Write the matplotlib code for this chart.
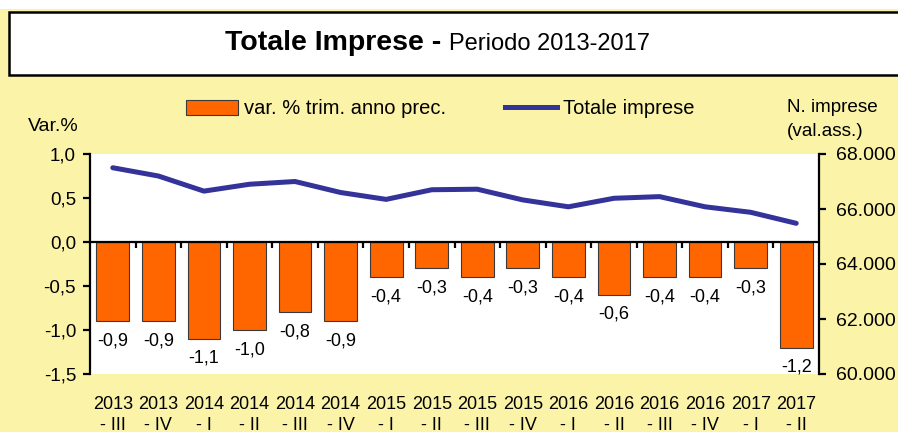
import numpy as np
import matplotlib
matplotlib.use("Agg")
import matplotlib.pyplot as plt
from matplotlib.patches import Rectangle, Patch
from matplotlib.lines import Line2D
from matplotlib.ticker import FuncFormatter

plt.rcParams["font.family"] = ["Liberation Sans", "DejaVu Sans"]

# ── data ────────────────────────────────────────────────────────────────────
years = ["2013", "2013", "2014", "2014", "2014", "2014", "2015", "2015",
         "2015", "2015", "2016", "2016", "2016", "2016", "2017", "2017"]
quarters = ["III", "IV", "I", "II", "III", "IV", "I", "II",
            "III", "IV", "I", "II", "III", "IV", "I", "II"]
var_pct = [-0.9, -0.9, -1.1, -1.0, -0.8, -0.9, -0.4, -0.3,
           -0.4, -0.3, -0.4, -0.6, -0.4, -0.4, -0.3, -1.2]
tot_imprese = [67500, 67200, 66650, 66900, 67000, 66600, 66350, 66700,
               66720, 66330, 66080, 66390, 66450, 66080, 65880, 65480]

BG = "#FBF4A8"
ORANGE = "#FF6600"
NAVY = "#333399"

W, H = 898, 432
fig = plt.figure(figsize=(W / 100, H / 100), dpi=100, facecolor=BG)

# white strip on top + framed title box
fig.patches.append(Rectangle((0, 1 - 9 / H), 1, 9 / H, transform=fig.transFigure,
                             fc="white", ec="none", zorder=0))
fig.patches.append(Rectangle((9 / W, 1 - 75 / H), 1, 63 / H, transform=fig.transFigure,
                             fc="white", ec="black", lw=1.8, zorder=1))

t1 = fig.text(225 / W, 1 - 43 / H, "Totale Imprese - ", fontsize=20.5,
              fontweight="bold", va="center", ha="left")
fig.canvas.draw()
bb = t1.get_window_extent()
fig.text(bb.x1 / W, 1 - 44 / H, "Periodo 2013-2017", fontsize=17,
         va="center", ha="left")

# ── axes ────────────────────────────────────────────────────────────────────
ax = fig.add_axes([90 / W, 1 - 374 / H, (819 - 90) / W, (374 - 154) / H])
ax.set_facecolor("white")
x = np.arange(len(var_pct))

bars = ax.bar(x, var_pct, width=0.72, color=ORANGE, edgecolor="#3a3a3a",
              linewidth=0.8, zorder=2)
ax.bar_label(bars, labels=[f"{v:.1f}".replace(".", ",") for v in var_pct],
             padding=8, fontsize=13)

ax.axhline(0, color="black", lw=1.6, zorder=3)
ax.vlines(x[1:] - 0.5, -0.07, 0, color="black", lw=1.6, zorder=3)

ax.set_xlim(-0.5, len(var_pct) - 0.5)
ax.set_ylim(-1.5, 1.0)
ax.set_yticks(np.arange(-1.5, 1.01, 0.5))
ax.yaxis.set_major_formatter(FuncFormatter(lambda v, p: f"{v:.1f}".replace(".", ",")))
ax.tick_params(axis="y", direction="out", length=5, width=1.6, pad=5, labelsize=13.5)

ax.set_xticks(x)
ax.set_xticklabels([f"{y}\n- {q}" for y, q in zip(years, quarters)],
                   fontsize=13, linespacing=1.3)
for lbl in ax.get_xticklabels():
    lbl.set_multialignment("center")
ax.tick_params(axis="x", length=0, pad=16)

for s in ["top", "right", "bottom"]:
    ax.spines[s].set_visible(False)
ax.spines["left"].set_linewidth(1.6)

ax2 = ax.twinx()
ax2.plot(x, tot_imprese, color=NAVY, lw=3.6, solid_capstyle="round", zorder=4)
ax2.set_ylim(60000, 68000)
ax2.set_yticks(np.arange(60000, 68001, 2000))
ax2.yaxis.set_major_formatter(FuncFormatter(lambda v, p: f"{v:,.0f}".replace(",", ".")))
ax2.tick_params(axis="y", direction="out", length=5, width=1.6, pad=7, labelsize=14)
for s in ["top", "left", "bottom"]:
    ax2.spines[s].set_visible(False)
ax2.spines["right"].set_linewidth(1.6)

# ── legend & axis captions ──────────────────────────────────────────────────
handles = [Patch(facecolor=ORANGE, edgecolor="#3a3a3a", linewidth=0.8),
           Line2D([], [], color=NAVY, lw=3.6)]
fig.legend(handles, ["var. % trim. anno prec.", "Totale imprese"],
           loc="center", bbox_to_anchor=(440 / W, 1 - 109 / H), ncol=2,
           frameon=False, fontsize=14.5, handlelength=2.6, handleheight=0.7,
           handletextpad=0.3, columnspacing=2.9)

fig.text(28 / W, 1 - 127 / H, "Var.%", fontsize=14, va="center", ha="left")
fig.text(787 / W, 1 - 107 / H, "N. imprese", fontsize=13.6, va="center", ha="left")
fig.text(787 / W, 1 - 132 / H, "(val.ass.)", fontsize=13.6, va="center", ha="left")

fig.savefig("out.png", dpi=100, facecolor=BG)
